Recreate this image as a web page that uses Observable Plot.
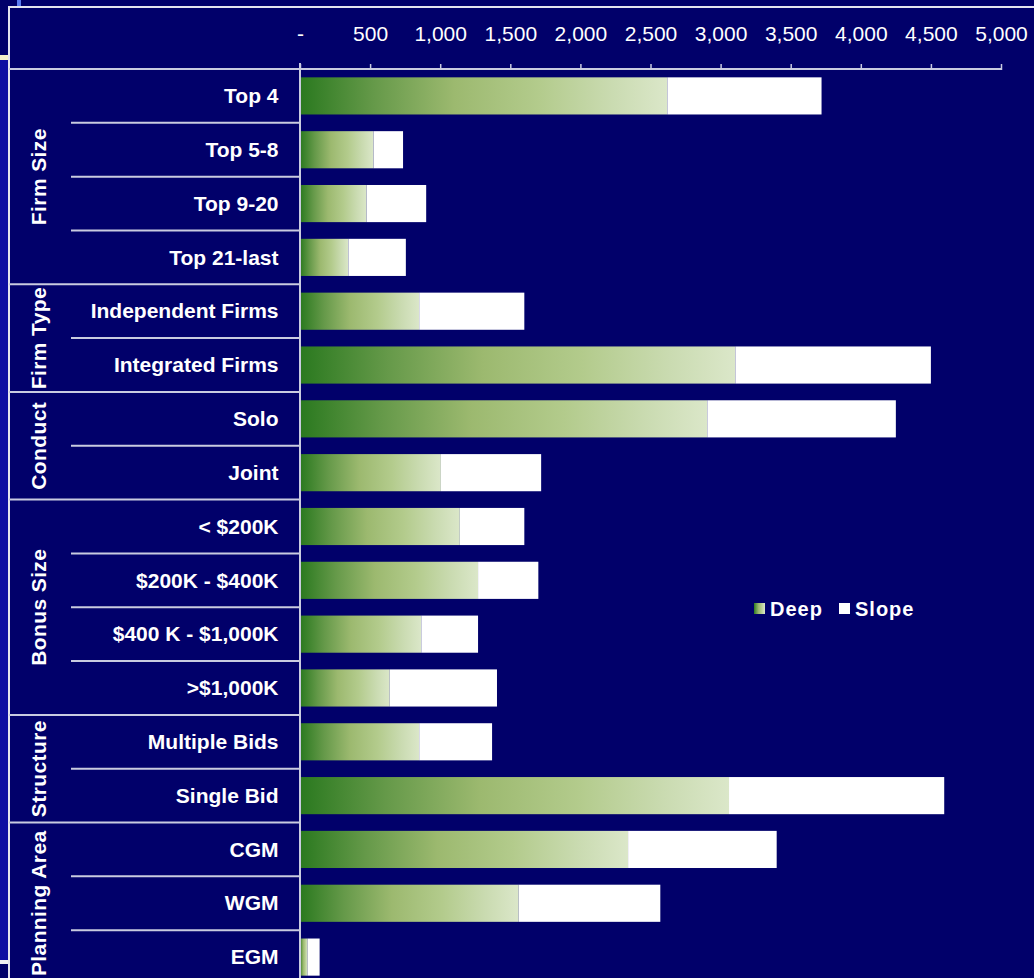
<!DOCTYPE html>
<html><head><meta charset="utf-8">
<script src="https://cdn.jsdelivr.net/npm/d3@7"></script>
<script src="https://cdn.jsdelivr.net/npm/@observablehq/plot@0.6"></script>
<style>
html,body{margin:0;padding:0;background:#01006a;overflow:hidden;width:1034px;height:978px;}
#chart{position:absolute;left:0;top:0;}
.deco{position:absolute;}
</style></head><body>
<div class="deco" style="left:0;top:60px;width:9px;height:902px;background:#0d0da2"></div>
<div class="deco" style="left:0;top:55px;width:9px;height:5px;background:#f4f0c8"></div>
<div class="deco" style="left:0;top:960px;width:10px;height:4px;background:#f0f0f4"></div>
<div class="deco" style="left:17px;top:0;width:4px;height:6px;background:#5b7cf0"></div>
<div id="chart"></div>
<script>
const categories = ["Top 4","Top 5-8","Top 9-20","Top 21-last","Independent Firms","Integrated Firms","Solo","Joint","< $200K","$200K - $400K","$400 K - $1,000K",">$1,000K","Multiple Bids","Single Bid","CGM","WGM","EGM"];
const groups = ["Firm Size","Firm Type","Conduct","Bonus Size","Structure","Planning Area"];
const groupSizes = [4,2,2,4,2,3];
const deep  = [2620, 525, 475, 345, 850, 3105, 2905, 1005, 1140, 1270, 865, 640, 850, 3060, 2340, 1560, 55];
const slope = [1100, 210, 425, 410, 750, 1395, 1345, 715, 460, 430, 405, 765, 520, 1535, 1060, 1010, 85];
const seriesNames = ["Deep","Slope"];
const xTicks = [0,500,1000,1500,2000,2500,3000,3500,4000,4500,5000];

(function(){
const FONT = "'Liberation Sans', Arial, sans-serif";
const LINE = "#c9cbe0";

const rows = categories.map((c,i)=>({cat:c, deep:deep[i], slope:slope[i], total:deep[i]+slope[i]}));

const plot = Plot.plot({
  width:1034, height:984,
  marginTop:69, marginLeft:300, marginRight:33, marginBottom:0,
  style:{background:"transparent", color:"white", fontFamily:FONT, overflow:"visible"},
  x:{domain:[0,5000]},
  y:{domain:categories, paddingInner:0.31, paddingOuter:0.155, round:false},
  marks:[
    Plot.barX(rows,{y:"cat", x:"deep", fill:"url(#deepGrad)"}),
    Plot.barX(rows,{y:"cat", x1:"deep", x2:"total", fill:"white"}),
    Plot.axisX({anchor:"top", ticks:xTicks, tickFormat:d=> d===0 ? "-" : d3.format(",")(d), tickSize:6, tickPadding:23, fontSize:21, label:null, stroke:LINE, strokeWidth:1.5}),
    Plot.axisY({anchor:"left", tickSize:0, tickPadding:22, fontSize:21, fontWeight:"bold", label:null})
  ]
});
document.getElementById("chart").appendChild(plot);

const svg = d3.select(plot);
const defs = svg.insert("defs", ":first-child");
const gr = defs.append("linearGradient").attr("id","deepGrad").attr("x1",0).attr("x2",1).attr("y1",0).attr("y2",0);
[[0,"#2a791f"],[0.2,"#659949"],[0.42,"#9cb96f"],[0.65,"#b3cb8c"],[0.85,"#cadbb1"],[1,"#dbe7c9"]].forEach(([o,c])=>gr.append("stop").attr("offset",o).attr("stop-color",c));

const xs = plot.scale("x"), ys = plot.scale("y");
const x0 = xs.apply(0), xEnd = xs.apply(5000);
const gap = (ys.step - ys.bandwidth)/2;
const rowTop = c => ys.apply(c) - gap;
const yTop = rowTop(categories[0]);
const lines = svg.append("g").attr("stroke", LINE).attr("stroke-width", 2).attr("fill","none");
lines.append("line").attr("x1",9).attr("x2",1034).attr("y1",7).attr("y2",7).attr("stroke","#e4e4ee");
lines.append("line").attr("x1",9).attr("x2",9).attr("y1",6).attr("y2",990).attr("stroke","#e4e4ee");
lines.append("line").attr("x1",9).attr("x2",xEnd).attr("y1",yTop).attr("y2",yTop);
lines.append("line").attr("x1",x0).attr("x2",x0).attr("y1",yTop-6).attr("y2",990);
let idx = 0;
groups.forEach((gname, gi) => {
  const n = groupSizes[gi];
  const gTop = rowTop(categories[idx]);
  const gBot = gTop + n*ys.step;
  for (let k=1;k<n;k++){
    const yy = rowTop(categories[idx+k]);
    lines.append("line").attr("x1",71).attr("x2",x0).attr("y1",yy).attr("y2",yy);
  }
  lines.append("line").attr("x1",9).attr("x2",x0).attr("y1",gBot).attr("y2",gBot);
  svg.append("text").attr("transform",`translate(38,${(gTop+gBot)/2}) rotate(-90)`)
    .attr("text-anchor","middle").attr("dominant-baseline","central")
    .attr("fill","white").attr("font-family",FONT).attr("font-weight","bold").attr("font-size",21)
    .attr("letter-spacing","0.4px")
    .text(gname);
  idx += n;
});

const leg = svg.append("g").attr("font-family",FONT).attr("font-weight","bold").attr("font-size",20).attr("fill","white").attr("text-anchor","start");
const legendX = [754, 839];
seriesNames.forEach((s,i)=>{
  leg.append("rect").attr("x",legendX[i]).attr("y",603).attr("width",11).attr("height",11)
    .attr("fill", i===0 ? "url(#deepGrad)" : "white");
  leg.append("text").attr("x",legendX[i]+16).attr("y",616).attr("text-anchor","start").attr("letter-spacing","1px").text(s);
});
})();
</script>
</body></html>
